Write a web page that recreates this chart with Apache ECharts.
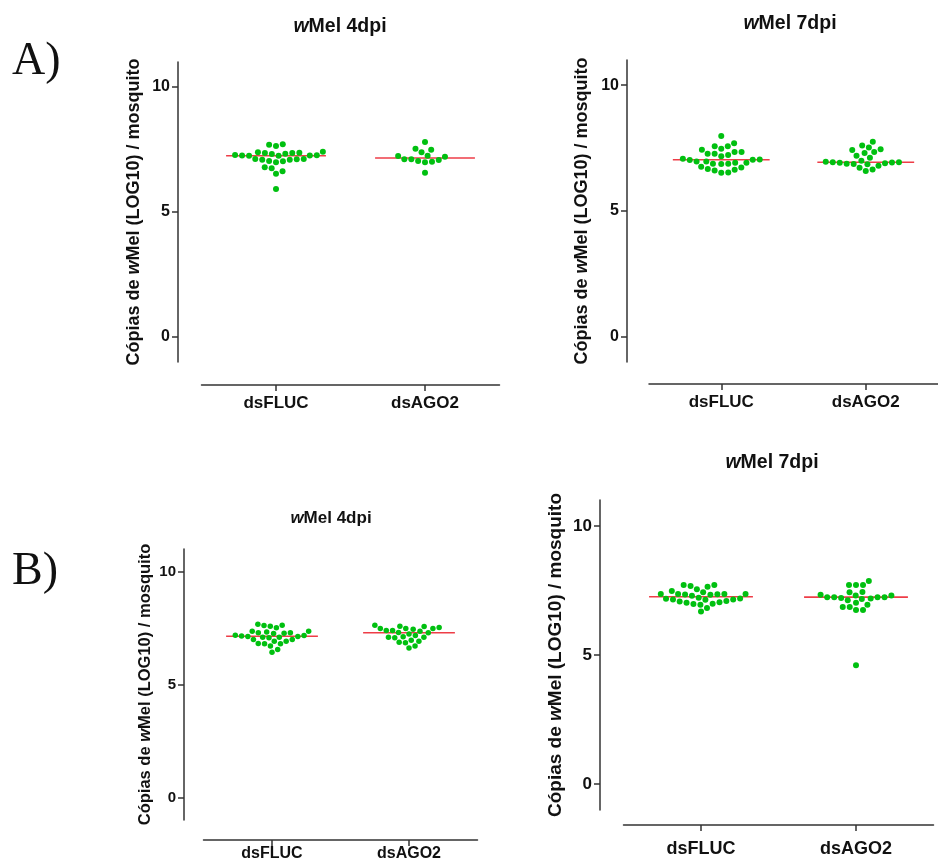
<!DOCTYPE html>
<html><head><meta charset="utf-8">
<script src="https://cdn.jsdelivr.net/npm/echarts@6/dist/echarts.min.js"></script>
<style>html,body{margin:0;padding:0;background:#fff}#c{width:938px;height:864px}</style>
</head><body><div id="c"></div>
<script>
// ---------- DATA ----------
const categories = ['dsFLUC', 'dsAGO2'];
const yTicks = [0, 5, 10];
const panelTitles = ['Mel 4dpi', 'Mel 7dpi', 'Mel 4dpi', 'Mel 7dpi'];
const panelLetters = ['A)', 'B)'];
const yAxisName = 'Cópias de {i|w}Mel (LOG10) / mosquito';

const A4_dsFLUC = [7.26,7.25,7.25,7.26,7.27,7.28, 7.71,7.64,7.69, 7.39,7.36,7.33,7.32,7.36,7.37,7.41,
  7.11,7.09,7.03,6.99,7.04,7.09,7.12,7.12, 6.79,6.63,6.53,6.75, 5.92];
const A4_dsAGO2 = [7.24,7.11,7.04,7.01,6.99,7.08,7.11,7.21,7.25,7.53,7.39,7.49,7.80,6.57];
const A7_dsFLUC = [7.98,7.69,7.57,7.47,7.57,7.43,7.34,7.27,7.18,7.23,7.27,7.34,7.05,7.04,6.97,6.92,
  6.88,6.87,6.88,6.92,6.97,7.03,7.08,6.76,6.67,6.61,6.52,6.53,6.64,6.73];
const A7_dsAGO2 = [7.75,7.60,7.52,7.45,7.42,7.34,7.30,7.20,7.12,7.00,6.96,6.94,6.94,6.93,6.92,6.90,
  6.88,6.87,6.86,6.80,6.72,6.65,6.59];
const B4_dsFLUC = [7.29,7.27,7.18,7.17,7.07,6.99,7.12,7.62,7.58,7.51,7.61,7.67,7.36,7.36,7.09,7.09,
  7.12,6.92,6.80,6.70,6.80,6.81,6.92,6.99,7.15,7.26,7.29,7.33,6.43,6.55];
const B4_dsAGO2 = [7.52,7.48,7.45,7.39,7.58,7.30,7.57,7.62,7.24,7.29,7.36,7.39,7.48,7.48,7.09,7.09,
  6.96,6.92,7.07,7.11,7.17,6.85,6.62,6.70,6.87];
const B7_dsFLUC = [7.55,7.43,7.36,7.36,7.34,7.71,7.67,7.64,7.71,7.29,7.33,7.35,7.36,7.36,7.48,7.19,
  7.15,7.04,6.95,7.02,7.09,6.98,6.82,6.97,7.07,7.14,7.15,6.68,7.22,7.18];
const B7_dsAGO2 = [7.24,7.24,7.21,7.44,7.17,7.71,7.71,7.71,7.86,7.33,7.12,7.30,7.43,7.19,7.24,7.24,
  7.30,6.86,6.74,6.74,7.02,6.86,6.95,4.60];

const panelData = [[A4_dsFLUC, A4_dsAGO2], [A7_dsFLUC, A7_dsAGO2], [B4_dsFLUC, B4_dsAGO2], [B7_dsFLUC, B7_dsAGO2]];

// ---------- LAYOUT / STYLE ----------
const FONT = '"Liberation Sans", Arial, sans-serif';
const AXIS_COLOR = '#333333';
const DOT_COLOR = '#00c010';
const MED_COLOR = '#ee3d47';
const layout = [
  { grid:{left:201.5, top:62, width:298, height:300}, yOff:23.5, xOff:23, nameGap:35, nameSize:18, tickSize:16, xLabSize:17, xMargin:10,
    title:[340,27], titleSize:19.5, dot:6, D:7 },
  { grid:{left:649, top:60, width:300, height:302}, yOff:22, xOff:22, nameGap:35.5, nameSize:18, tickSize:16, xLabSize:17, xMargin:10,
    title:[790,24], titleSize:19.5, dot:6, D:7 },
  { grid:{left:203.5, top:549, width:274, height:271}, yOff:19.5, xOff:20, nameGap:30, nameSize:16.5, tickSize:15, xLabSize:16, xMargin:6,
    title:[331,518], titleSize:17, dot:5.5, D:6.3 },
  { grid:{left:623.5, top:500, width:310, height:310}, yOff:23.5, xOff:15, nameGap:35, nameSize:19, tickSize:17, xLabSize:18, xMargin:15,
    title:[772,463], titleSize:19.5, dot:6, D:7 }
];

function median(arr) {
  const s = arr.slice().sort((a, b) => a - b);
  const n = s.length;
  return n % 2 ? s[(n - 1) / 2] : (s[n / 2 - 1] + s[n / 2]) / 2;
}

// beeswarm: x offsets (px) for values given y scale (px per unit) and dot spacing D
function swarm(values, pxY, D) {
  const idx = values.map((v, i) => i).sort((a, b) => values[a] - values[b]);
  const placed = [];
  const off = new Array(values.length);
  let sum = 0;
  for (const i of idx) {
    const y = values[i] * pxY;
    const near = placed.filter(p => Math.abs(p.y - y) < D);
    const cands = [0];
    near.forEach(p => {
      const dx = Math.sqrt(D * D - (p.y - y) * (p.y - y));
      cands.push(p.x + dx, p.x - dx);
    });
    const pref = sum > 0 ? -1 : 1;
    cands.sort((a, b) => {
      const d = Math.abs(a) - Math.abs(b);
      if (Math.abs(d) > 0.05) return d;
      return (Math.sign(b) === pref) - (Math.sign(a) === pref);
    });
    for (const c of cands) {
      if (near.every(p => (p.x - c) * (p.x - c) + (p.y - y) * (p.y - y) >= D * D - 0.01)) {
        off[i] = c; placed.push({ x: c, y }); sum += c; break;
      }
    }
  }
  return off;
}

const chart = echarts.init(document.getElementById('c'), null, { renderer: 'canvas' });

const grids = [], xAxes = [], yAxes = [], graphics = [];
layout.forEach((L, i) => {
  grids.push(Object.assign({ containLabel: false }, L.grid));
  xAxes.push({
    type: 'value', gridIndex: i, min: 0.5, max: 2.5, offset: L.xOff,
    axisLine: { show: true, onZero: false, lineStyle: { color: AXIS_COLOR, width: 1.5 } },
    axisTick: { show: true, customValues: [1, 2], length: 6, lineStyle: { color: AXIS_COLOR, width: 1.5 } },
    axisLabel: { customValues: [1, 2], formatter: v => categories[Math.round(v) - 1], margin: L.xMargin,
      fontFamily: FONT, fontWeight: 'bold', fontSize: L.xLabSize, color: '#111' },
    splitLine: { show: false }
  });
  yAxes.push({
    type: 'value', gridIndex: i, min: -1, max: 11, offset: L.yOff,
    axisLine: { show: true, onZero: false, lineStyle: { color: AXIS_COLOR, width: 1.5 } },
    axisTick: { show: true, customValues: yTicks, length: 6, lineStyle: { color: AXIS_COLOR, width: 1.5 } },
    axisLabel: { customValues: yTicks, margin: 8, fontFamily: FONT, fontWeight: 'bold', fontSize: L.tickSize, color: '#111' },
    splitLine: { show: false },
    name: yAxisName, nameLocation: 'middle', nameGap: L.nameGap,
    nameTextStyle: { fontFamily: FONT, fontWeight: 'bold', fontSize: L.nameSize, color: '#111',
      rich: { i: { fontFamily: FONT, fontWeight: 'bold', fontStyle: 'italic', fontSize: L.nameSize, color: '#111' } } }
  });
  graphics.push({
    type: 'text', x: L.title[0], y: L.title[1],
    style: { text: '{i|w}' + panelTitles[i], fontFamily: FONT, fontWeight: 'bold', fontSize: L.titleSize, fill: '#111',
      align: 'center', verticalAlign: 'middle',
      rich: { i: { fontFamily: FONT, fontWeight: 'bold', fontStyle: 'italic', fontSize: L.titleSize, fill: '#111' } } }
  });
});
graphics.push({ type: 'text', x: 12, y: 62, style: { text: panelLetters[0], fontFamily: '"Liberation Serif", serif', fontSize: 46, fill: '#111', verticalAlign: 'middle' } });
graphics.push({ type: 'text', x: 12, y: 572, style: { text: panelLetters[1], fontFamily: '"Liberation Serif", serif', fontSize: 46, fill: '#111', verticalAlign: 'middle' } });

chart.setOption({
  animation: false,
  backgroundColor: '#fff',
  grid: grids, xAxis: xAxes, yAxis: yAxes, graphic: graphics, series: []
});

const series = [];
layout.forEach((L, i) => {
  const p0 = chart.convertToPixel({ gridIndex: i }, [1, 0]);
  const p1 = chart.convertToPixel({ gridIndex: i }, [2, 1]);
  const pxX = p1[0] - p0[0];
  const pxY = p0[1] - p1[1];
  panelData[i].forEach((vals, c) => {
    const cx = c + 1;
    const med = median(vals);
    series.push({
      type: 'line', xAxisIndex: i, yAxisIndex: i, symbol: 'none', silent: true, z: 2,
      lineStyle: { color: MED_COLOR, width: 1.6 },
      data: [[cx - 0.335, med], [cx + 0.335, med]]
    });
    const offs = swarm(vals, pxY, L.D);
    series.push({
      type: 'scatter', xAxisIndex: i, yAxisIndex: i, z: 3, symbolSize: L.dot,
      itemStyle: { color: DOT_COLOR, opacity: 1 },
      data: vals.map((v, k) => [cx + offs[k] / pxX, v])
    });
  });
});
chart.setOption({ series });
</script>
</body></html>
